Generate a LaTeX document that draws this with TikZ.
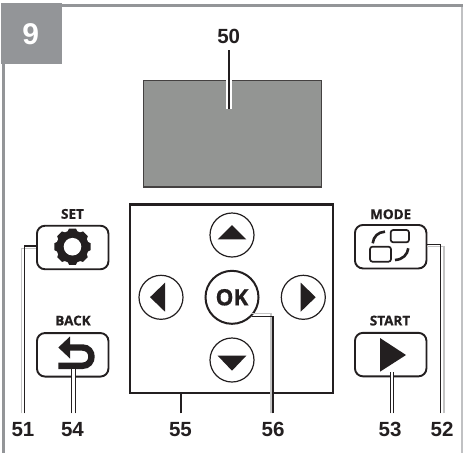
\documentclass[tikz,border=0pt]{standalone}
\usepackage{fontspec}
\setmainfont{Liberation Sans}
\newfontfamily\btnfont[BoldFeatures={FakeBold=0.6}]{Open Sans}
\definecolor{framegray}{HTML}{939598}
\definecolor{framelight}{HTML}{C0C1C3}
\definecolor{screengray}{HTML}{939593}
\definecolor{ink}{HTML}{231F20}
\definecolor{haze}{HTML}{C4C4C4}
\tikzset{
  x=1pt,y=-1pt,
  numlabel/.style={inner sep=0pt,outer ysep=9pt,font=\fontsize{20.5}{20.5}\bfseries,text=ink,text height=14.5pt,text depth=0pt},
  btnlabel/.style={inner sep=0pt,font=\btnfont\fontsize{13.5}{13.5}\bfseries,text=ink,text height=9.5pt,text depth=0pt},
  btn/.style={draw=ink,line width=1.9pt,fill=white,rounded corners=8pt,minimum width=71.5pt,minimum height=43.5pt,inner sep=0pt},
  padcircle/.style={circle,draw=ink,line width=1.2pt,fill=white,minimum size=44pt,inner sep=0pt},
  glyph/.style={fill=ink,draw=none},
  lead/.style={draw=ink,line width=1.4pt},
  halo/.style={draw=haze,line width=1.2pt},
  gap/.style={draw=white,line width=3pt},
  iconline/.style={draw=ink,line width=1.7pt,rounded corners=2.5pt},
  iconarc/.style={draw=ink,line width=2.6pt},
}
\begin{document}
\begin{tikzpicture}
\useasboundingbox (0,0) rectangle (463,453);
\fill[white] (0,0) rectangle (463,453);
% frame
\fill[framegray] (62,4) rectangle (463,7.3);
\fill[framegray] (1.7,60) rectangle (5,453);
\fill[framelight] (461.3,7) rectangle (463,453);
\node[fill=framegray,minimum width=60.7pt,minimum height=60.4pt,inner sep=0pt] (badge) at (31.6,33.5) {};
\node[inner sep=0pt,text=white,font=\fontsize{30}{30}\bfseries] (nine) at (30.7,34.3) {9};
% screen
\node[draw=ink!85,line width=1.2pt,fill=screengray,minimum width=178pt,minimum height=106.5pt,inner sep=0pt] (screen) at (232.2,133.7) {};
% pad
\node[draw=ink,line width=2.6pt,fill=white,minimum width=203pt,minimum height=188.5pt,inner sep=0pt] (pad) at (231.5,298.7) {};
\node[padcircle] (up) at (232,235) {};
\node[padcircle] (down) at (232,360) {};
\node[padcircle] (left) at (161,297.3) {};
\node[padcircle] (right) at (303.3,297.3) {};
\node[circle,draw=ink,line width=2pt,fill=white,minimum size=53pt,inner sep=0pt,font=\btnfont\fontsize{22.5}{22.5}\bfseries,text=ink] (ok) at (232,297.3) {OK};
\fill[glyph] (217.7,239.3) -- (246.3,239.3) -- (232,225) -- cycle;
\fill[glyph] (217.7,355.7) -- (246.3,355.7) -- (232,370.7) -- cycle;
\fill[glyph] (165,282.7) -- (165,311.7) -- (150,297.2) -- cycle;
\fill[glyph] (300.7,282.7) -- (300.7,311.7) -- (315.7,297.2) -- cycle;
% buttons
\node[btn] (set) at (72.7,247.5) {};
\node[btn] (back) at (72.7,354.8) {};
\node[btn] (mode) at (390.7,246.7) {};
\node[btn] (start) at (390.7,354.6) {};
\node[btnlabel] (setl) at (72.5,214) {SET};
\node[btnlabel] (backl) at (73,320.7) {BACK};
\node[btnlabel] (model) at (390.7,214.3) {MODE};
\node[btnlabel] (startl) at (390,320.7) {START};
% gear
\begin{scope}[shift={(72.5,246.7)}]
  \fill[glyph] (0,0) circle (16.2);
  \foreach \a in {0,45,...,315}{
    \fill[glyph,rotate=\a] (-5,-15) -- (-3.4,-18.2) -- (3.4,-18.2) -- (5,-15) -- cycle;
  }
  \fill[white] (0,0) circle (8.8);
\end{scope}
% back arrow
\draw[ink,line width=6.4pt] (66,347.5) -- (82.5,347.5) .. controls (94.5,347.5) and (94.5,365.8) .. (82.5,365.8) -- (58.3,365.8);
\fill[glyph] (58.3,347.5) -- (70,336.5) -- (70,358.5) -- cycle;
% mode icon
\draw[iconline] (390.7,230) rectangle (409,242.3);
\draw[iconline] (370,246.7) rectangle (391,261.7);
\draw[iconarc] (372.7,243.3) .. controls (373.5,236.5) and (378,232) .. (385,231.7);
\draw[iconarc] (408.3,248.3) .. controls (407.5,254.5) and (403,259.5) .. (395,260);
% start triangle
\fill[glyph] (380,338) -- (406,355) -- (380,371.7) -- cycle;
% labels
\node[numlabel,outer ysep=7pt] (l50) at (228.7,36) {50};
\node[numlabel] (l51) at (23,429.7) {51};
\node[numlabel] (l54) at (72.5,429.7) {54};
\node[numlabel] (l55) at (180.5,429.7) {55};
\node[numlabel] (l56) at (273,429.7) {56};
\node[numlabel] (l53) at (390,429.7) {53};
\node[numlabel] (l52) at (442,429.7) {52};
\coordinate (c50) at (229,109);
\coordinate (c54) at (73.5,369);
\coordinate (c53) at (391.7,371.7);
% 50
\draw[white,line width=5.5pt] (c50) -- (229,80);
\draw[lead,line width=2pt] (l50.south -| c50) -- (c50);
% 51
\draw[halo] ([xshift=-1.5pt]l51.north) |- ([yshift=-1pt]set.west);
\draw[lead] ([xshift=1.5pt]l51.north) |- ([yshift=1.5pt]set.west);
% 54
\draw[gap] (l54.north -| c54) -- (c54);
\draw[lead,line width=1pt] ([xshift=-1.6pt]l54.north -| c54) -- ([xshift=-1.6pt]c54);
\draw[lead,line width=1pt] ([xshift=1.6pt]l54.north -| c54) -- ([xshift=1.6pt]c54);
% 55
\draw[lead,line width=2pt] (l55.north) -- (l55.north |- pad.south);
% 56
\draw[halo] ([xshift=-2pt]l56.north) |- ([xshift=-0.5pt,yshift=3.3pt]ok.-45);
\draw[lead] (l56.north) |- ([xshift=0.5pt]ok.-45);
% 53
\draw[gap] (l53.north -| c53) -- (c53);
\draw[lead,line width=1pt] ([xshift=-1.6pt]l53.north -| c53) -- ([xshift=-1.6pt]c53);
\draw[lead,line width=1pt] ([xshift=1.6pt]l53.north -| c53) -- ([xshift=1.6pt]c53);
% 52
\draw[halo] ([xshift=2pt]l52.north) |- ([yshift=0pt]mode.east);
\draw[lead] ([xshift=-1.3pt]l52.north) |- ([yshift=2.5pt]mode.east);
\end{tikzpicture}
\end{document}
